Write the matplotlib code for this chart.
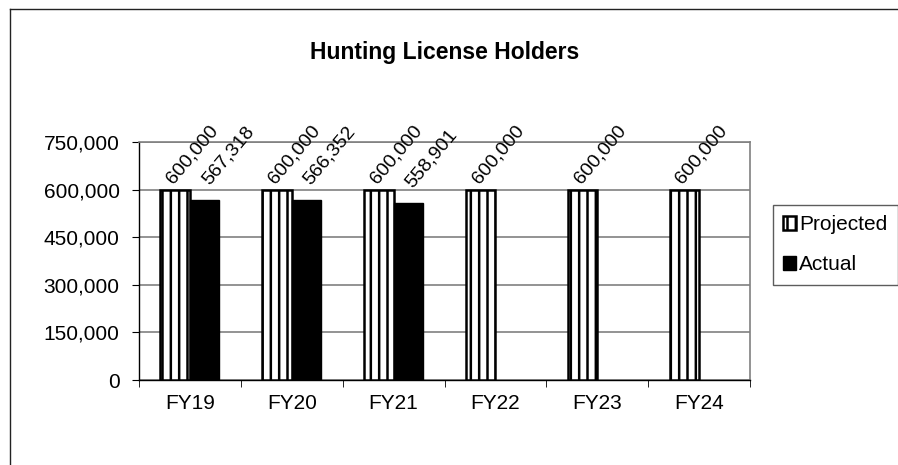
import matplotlib
matplotlib.use("Agg")
import matplotlib.pyplot as plt
import numpy as np
from matplotlib.lines import Line2D
from matplotlib.ticker import FuncFormatter

categories = ["FY19", "FY20", "FY21", "FY22", "FY23", "FY24"]
projected = [600000, 600000, 600000, 600000, 600000, 600000]
actual = [567318, 566352, 558901, None, None, None]
yticks = [0, 150000, 300000, 450000, 600000, 750000]

plt.rcParams['font.family'] = ['Liberation Sans', 'DejaVu Sans']
plt.rcParams['hatch.linewidth'] = 1.8
plt.rcParams['hatch.color'] = 'black'

fig = plt.figure(figsize=(8.98, 4.65), dpi=100)
W, H = 898, 465
ax = fig.add_axes([139 / W, 1 - 380 / H, (750 - 139) / W, (380 - 142) / H])

x = np.arange(len(categories))
bw = 0.29
pb = ax.bar(x - bw / 2, projected, bw, facecolor='white', edgecolor='black',
            linewidth=1.8, hatch='||', zorder=3, label='Projected')
ax_idx = [i for i, v in enumerate(actual) if v is not None]
ab = ax.bar([x[i] + bw / 2 for i in ax_idx], [actual[i] for i in ax_idx], bw,
            facecolor='black', edgecolor='black', linewidth=1, zorder=3, label='Actual')

lab_fs = 14
lab_rot = 50
for xi, v in zip(x - bw, projected):
    ax.annotate(f"{v:,}", (xi, v), xytext=(3, 3), textcoords='offset pixels',
                rotation=lab_rot, ha='left', va='bottom', fontsize=lab_fs)
for i in ax_idx:
    v = actual[i]
    ax.annotate(f"{v:,}", (x[i], v), xytext=(9, 12), textcoords='offset pixels',
                rotation=lab_rot, ha='left', va='bottom', fontsize=lab_fs)

ax.set_xlim(-0.5, len(categories) - 0.5)
ax.set_ylim(0, 750000)
ax.set_yticks(yticks)
ax.yaxis.set_major_formatter(FuncFormatter(lambda v, p: f"{int(v):,}"))
ax.set_xticks(x)
ax.set_xticklabels(categories)
ax.set_xticks(np.arange(-0.5, len(categories), 1), minor=True)
ax.tick_params(axis='x', which='major', length=0, labelsize=15, pad=10)
ax.tick_params(axis='x', which='minor', length=5, direction='out', color='black')
ax.tick_params(axis='y', length=5, direction='out', labelsize=15, pad=9, color='black')
ax.grid(axis='y', color='#808080', linewidth=1.2, zorder=0)
ax.set_axisbelow(True)
for s in ['top', 'right']:
    ax.spines[s].set_color('#808080')
    ax.spines[s].set_linewidth(1.2)
for s in ['left', 'bottom']:
    ax.spines[s].set_color('black')
    ax.spines[s].set_linewidth(1.0)

fig.text(445 / W, 1 - 53 / H, "Hunting License Holders", ha='center', va='center',
         fontsize=16.5, fontweight='bold')

leg = fig.legend(handles=[pb, ab], labels=['Projected', 'Actual'],
                 loc='upper left', bbox_to_anchor=(773 / W, 1 - 205 / H),
                 frameon=True, fontsize=15, fancybox=False, handlelength=0.6,
                 handleheight=0.6, handletextpad=0.15, labelspacing=1.0,
                 borderpad=0.5, borderaxespad=0)
leg.get_frame().set_edgecolor('#333333')
leg.get_frame().set_linewidth(1.0)

# outer chart border
fig.add_artist(Line2D([10 / W, 1.0], [1 - 9 / H, 1 - 9 / H], color='#222222', linewidth=1.0,
                      transform=fig.transFigure))
fig.add_artist(Line2D([10 / W, 10 / W], [1 - 9 / H, 0.0], color='#222222', linewidth=1.0,
                      transform=fig.transFigure))

fig.savefig("out.png", dpi=100, facecolor='white')
